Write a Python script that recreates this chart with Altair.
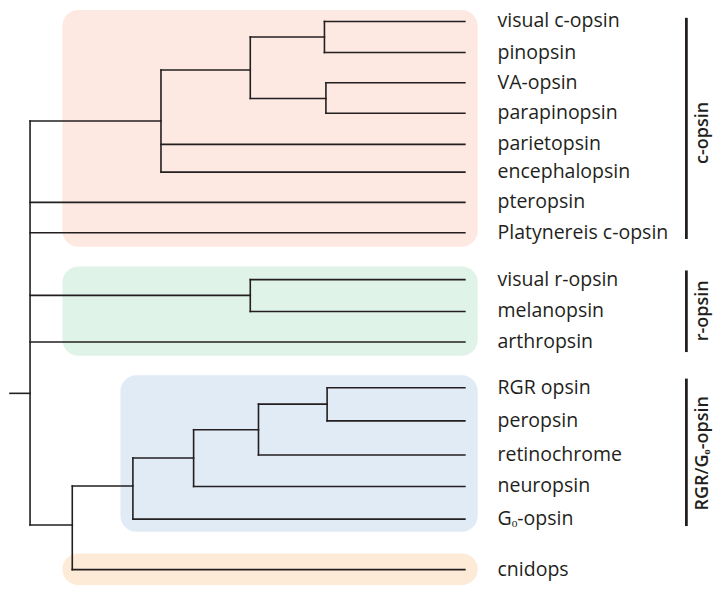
import altair as alt
import pandas as pd

# ---- tree data (positions, in page-pixel-like units) ----
leaf_names = ["visual c-opsin", "pinopsin", "VA-opsin", "parapinopsin", "parietopsin",
              "encephalopsin", "pteropsin", "Platynereis c-opsin", "visual r-opsin",
              "melanopsin", "arthropsin", "RGR opsin", "peropsin", "retinochrome",
              "neuropsin", "Gₒ-opsin", "cnidops"]
leaf_y = [16.7, 48.3, 79, 110, 141.7, 170, 200.7, 231.7, 279.3, 311.7, 342.7,
          389.3, 423, 457.7, 489.7, 523, 574.3]
leaf_parent = ["n1", "n1", "n2", "n2", "n4", "n4", "root", "root", "r1", "r1", "root",
               "g4", "g4", "g3", "g2", "g1", "b"]
leaf_x = 465

node_names = ["root", "n4", "n3", "n1", "n2", "r1", "b", "g1", "g2", "g3", "g4"]
node_parent = [None, "root", "n4", "n3", "n3", "root", "root", "b", "g1", "g2", "g3"]
node_x = [25.3, 157.7, 248, 323, 324.5, 248, 68, 129.3, 190.7, 256.3, 325.7]
node_y = [395, 118, 66, 32.5, 95, 295.3, 529, 489.3, 460.7, 432, 406]
root_stem_start = 5

# ---- clade boxes ----
box_x = [58, 58, 116.7, 58]
box_x2 = [478, 478, 478, 478]
box_y = [5, 266, 376.7, 558]
box_y2 = [246, 356.7, 535.7, 590]
box_color = ["#fde9e1", "#e0f3e8", "#e0ebf6", "#fdebd7"]

# ---- group brackets ----
group_names = ["c-opsin", "r-opsin", "RGR/Gₒ-opsin"]
group_y = [13, 270, 380]
group_y2 = [238, 353, 530]
group_label_y = [130, 311, 456]
bracket_x = 689
group_label_x = 706
label_x = 498

# ---- build segments ----
pos = {n: (x, y) for n, x, y in zip(node_names, node_x, node_y)}
segs = []
children = {n: [] for n in node_names}
for name, y, p in zip(leaf_names, leaf_y, leaf_parent):
    px, _ = pos[p]
    segs.append(dict(x=px, x2=leaf_x, y=y, y2=y))
    children[p].append(y)
for name, p in zip(node_names, node_parent):
    x, y = pos[name]
    if p is not None:
        px, _ = pos[p]
        segs.append(dict(x=px, x2=x, y=y, y2=y))
        children[p].append(y)
for name in node_names:
    x, _ = pos[name]
    ys = children[name]
    segs.append(dict(x=x, x2=x, y=min(ys), y2=max(ys)))
rx, ry = pos["root"]
segs.append(dict(x=root_stem_start, x2=rx, y=ry, y2=ry))
seg_df = pd.DataFrame(segs)

box_df = pd.DataFrame(dict(x=box_x, x2=box_x2, y=box_y, y2=box_y2, c=box_color))
leaf_df = pd.DataFrame(dict(name=leaf_names, y=leaf_y, x=[label_x] * len(leaf_names)))
grp_df = pd.DataFrame(dict(name=group_names, y=group_y, y2=group_y2,
                           ly=group_label_y, x=[bracket_x] * 3, lx=[group_label_x] * 3))

xs = alt.Scale(domain=[3, 723], nice=False, zero=False)
ys = alt.Scale(domain=[3, 592], nice=False, zero=False, reverse=True)
X = lambda f: alt.X(f, type="quantitative", scale=xs, axis=None)
Y = lambda f: alt.Y(f, type="quantitative", scale=ys, axis=None)

boxes = alt.Chart(box_df).mark_rect(cornerRadius=16).encode(
    x=X("x"), x2="x2", y=Y("y"), y2="y2",
    color=alt.Color("c:N", scale=None))

tree = alt.Chart(seg_df).mark_rule(color="#231f20", strokeWidth=1.6, strokeCap="square").encode(
    x=X("x"), x2="x2", y=Y("y"), y2="y2")

labels = alt.Chart(leaf_df).mark_text(
    align="left", baseline="middle", font="Open Sans", fontSize=19.5, color="#231f20"
).encode(x=X("x"), y=Y("y"), text="name:N")

brackets = alt.Chart(grp_df).mark_rule(color="#231f20", strokeWidth=2.8).encode(
    x=X("x"), y=Y("y"), y2="y2")

glabels = alt.Chart(grp_df).mark_text(
    align="center", baseline="middle", angle=270, font="Open Sans", fontSize=18,
    fontWeight=600, color="#231f20"
).encode(x=X("lx"), y=Y("ly"), text="name:N")

chart = alt.layer(boxes, tree, labels, brackets, glabels).properties(
    width=712, height=579, padding=0, autosize=alt.AutoSizeParams(type="none")
).configure_view(stroke=None)

chart.save("out.html", embed_options={"renderer": "svg", "actions": False})
